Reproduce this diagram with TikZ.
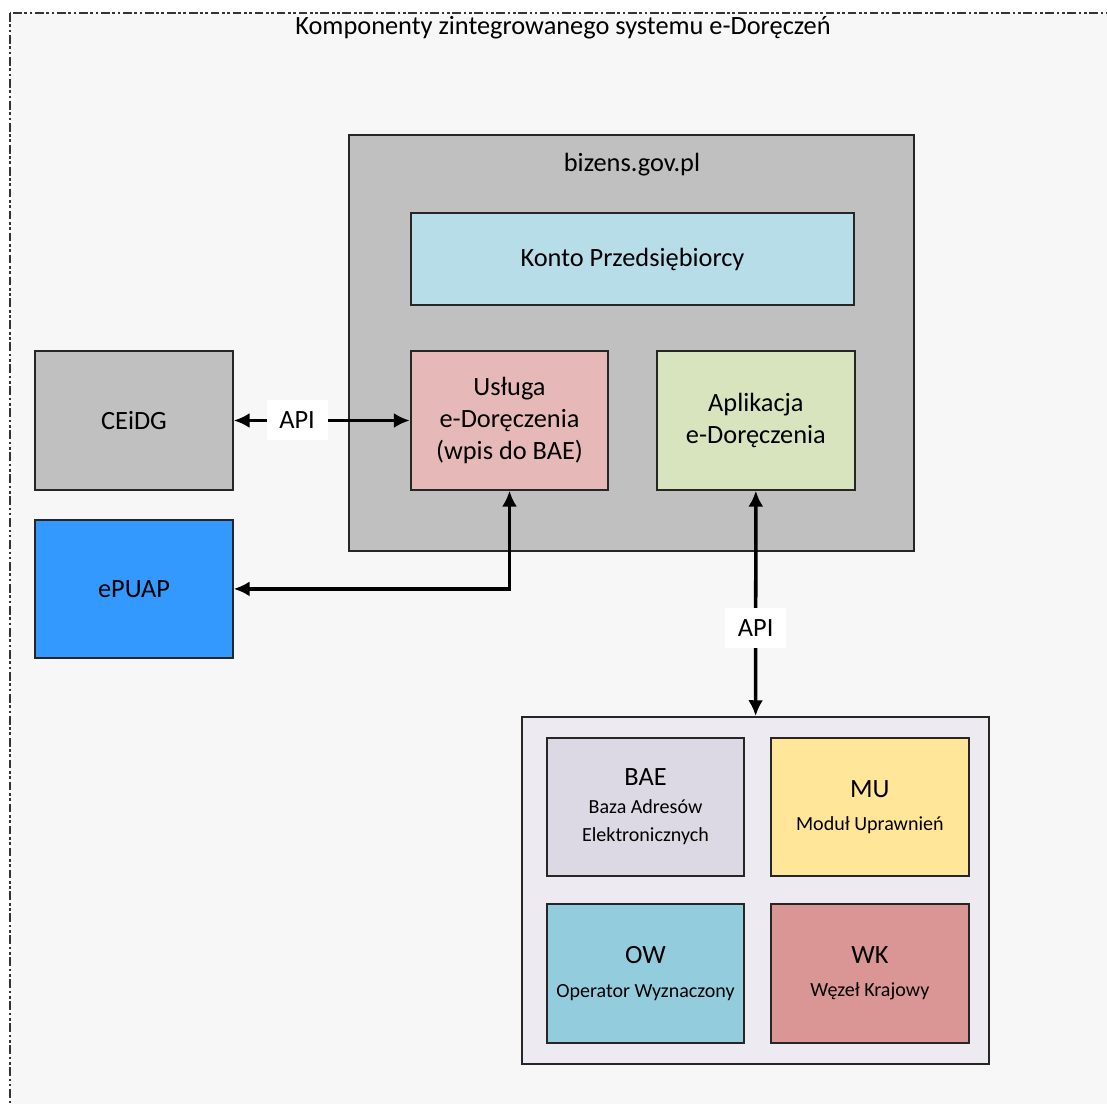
\documentclass[tikz,border=0pt]{standalone}
\usepackage{fontspec}
\setmainfont{Carlito}
\usepackage{tikz}
\usetikzlibrary{arrows.meta, positioning}

\definecolor{framebg}{HTML}{F7F7F7}
\definecolor{boxline}{HTML}{262626}
\definecolor{grayfill}{HTML}{C0C0C0}
\definecolor{kontofill}{HTML}{B7DEE8}
\definecolor{uslugafill}{HTML}{E6B9B8}
\definecolor{aplikacjafill}{HTML}{D7E4BD}
\definecolor{epuapfill}{HTML}{3399FF}
\definecolor{corefill}{HTML}{EDEAF1}
\definecolor{baefill}{HTML}{DDD9E4}
\definecolor{mufill}{HTML}{FFE699}
\definecolor{owfill}{HTML}{93CDDD}
\definecolor{wkfill}{HTML}{D99694}

\newcommand{\mainsize}{\fontsize{15}{18}\selectfont}
\newcommand{\subsize}{\fontsize{11.4}{14}\selectfont}

\begin{document}
\begin{tikzpicture}[
    % one unit = one pixel of the sketch
    x=0.02cm, y=-0.02cm,
    % Styles
    frame/.style={draw=black!80, fill=framebg, line width=0.6pt, dash pattern=on 5pt off 1.5pt on 1.5pt off 1.5pt on 1.5pt off 1.5pt},
    group/.style={rectangle, draw=boxline, line width=1.1pt},
    box/.style={rectangle, draw=boxline, line width=1.1pt, minimum width=3.95cm, minimum height=2.77cm, align=center, inner sep=2pt, font=\mainsize},
    api/.style={rectangle, fill=white, minimum width=1.22cm, minimum height=0.8cm, inner sep=1pt, font=\mainsize},
    link/.style={{Latex[length=9pt,width=8.5pt]}-{Latex[length=9pt,width=8.5pt]}, line width=2pt}
]
\useasboundingbox (0,0) rectangle (1107,1104);
\fill[white] (0,0) rectangle (1107,1104);
\begin{scope}
    \clip (0,0) rectangle (1107,1104);
    \draw[frame] (10,13) rectangle (1140,1140);
\end{scope}

\node[font=\mainsize] (title) at (563,28) {Komponenty zintegrowanego systemu e-Doręczeń};

% --- bizens.gov.pl ---
\node[group, fill=grayfill, minimum width=11.3cm, minimum height=8.32cm] (bizens) at (631.5,343) {};
\node[font=\mainsize] (bizens_label) at (632,165) {bizens.gov.pl};
\node[box, fill=kontofill, minimum width=8.86cm, minimum height=1.84cm] (konto) at (632.5,259) {Konto Przedsiębiorcy};
\node[box, fill=uslugafill] (usluga) at (509.5,420.5) {Usługa\\e-Doręczenia\\(wpis do BAE)};
\node[box, fill=aplikacjafill, right=0.94cm of usluga] (aplikacja) {Aplikacja\\e-Doręczenia};

% --- External registers ---
\node[box, fill=grayfill] (ceidg) at (134,420.5) {CEiDG};
\node[box, fill=epuapfill, below=0.56cm of ceidg] (epuap) {ePUAP};

% --- Core components ---
\node[group, fill=corefill, minimum width=9.36cm, minimum height=6.94cm] (core) at (755.5,890.5) {};
\node[box, fill=baefill] (bae) at (645.5,807) {BAE\\[-2pt]{\subsize Baza Adresów}\\[-2pt]{\subsize Elektronicznych}};
\node[box, fill=mufill, right=0.5cm of bae] (mu) {MU\\[1pt]{\subsize Moduł Uprawnień}};
\node[box, fill=owfill, below=0.52cm of bae] (ow) {OW\\[1pt]{\subsize Operator Wyznaczony}};
\node[box, fill=wkfill, right=0.5cm of ow] (wk) {WK\\[1pt]{\subsize Węzeł Krajowy}};

% --- Connectors ---
\draw[link] (ceidg) -- node[api, pos=0.36] (api_ceidg) {API} (usluga);
\draw[link] (usluga) |- (epuap);
\draw[link] (aplikacja) -- node[api, pos=0.61] (api_core) {API} (core);

\end{tikzpicture}
\end{document}
